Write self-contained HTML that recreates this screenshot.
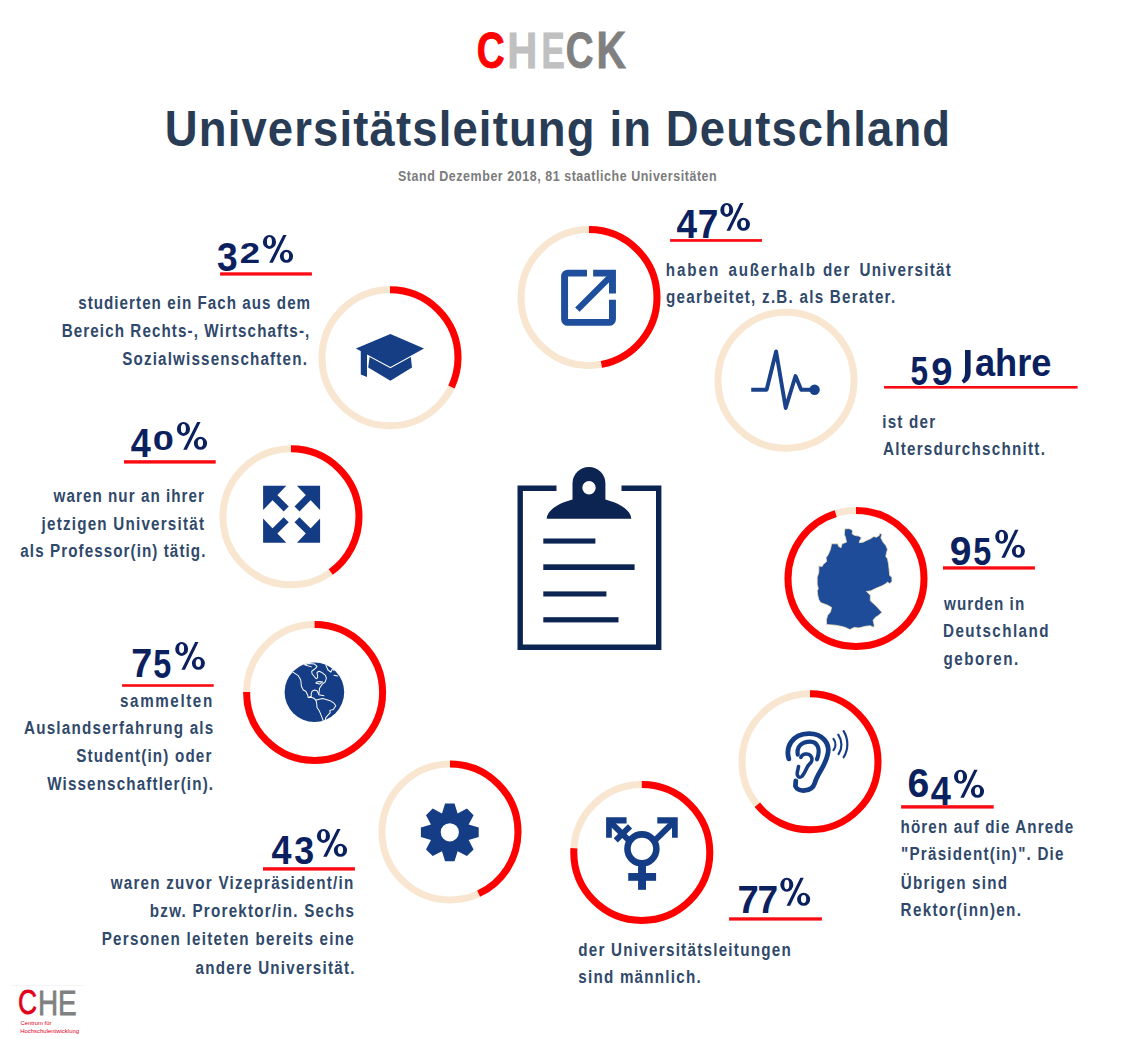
<!DOCTYPE html>
<html><head><meta charset="utf-8"><style>
html,body{margin:0;padding:0;background:#fff;}
body{width:1123px;height:1039px;overflow:hidden;}
svg{display:block;font-family:"Liberation Sans",sans-serif;}
</style></head><body>
<svg width="1123" height="1039" viewBox="0 0 1123 1039">
<rect width="1123" height="1039" fill="#fff"/>
<text transform="translate(476.76,68.21) scale(0.3870,0.5028)" font-size="100.0" font-weight="bold" fill="#ff0000" stroke="#ff0000" stroke-width="1.8">C</text>
<text transform="translate(507.36,68.40) scale(0.4167,0.5087)" font-size="100.0" font-weight="bold" fill="#c0c0c0" stroke="#c0c0c0" stroke-width="1.8">H</text>
<text transform="translate(541.51,68.40) scale(0.3494,0.5087)" font-size="100.0" font-weight="bold" fill="#c0c0c0" stroke="#c0c0c0" stroke-width="1.8">E</text>
<text transform="translate(565.78,68.21) scale(0.3839,0.5028)" font-size="100.0" font-weight="bold" fill="#808080" stroke="#808080" stroke-width="1.8">C</text>
<text transform="translate(596.43,68.40) scale(0.4071,0.5087)" font-size="100.0" font-weight="bold" fill="#808080" stroke="#808080" stroke-width="1.8">K</text>
<text transform="translate(164.77,145.90) scale(0.9,1)" font-size="50.5" font-weight="bold" fill="#293c55" letter-spacing="1.276">Universitätsleitung in Deutschland</text>
<text transform="translate(397.94,181.30) scale(0.86,1)" font-size="14.5" font-weight="bold" fill="#7b7b7b" letter-spacing="0.637">Stand Dezember 2018, 81 staatliche Universitäten</text>
<circle cx="390" cy="357.8" r="68" fill="none" stroke="#f8e6d1" stroke-width="7"/>
<circle cx="390" cy="357.8" r="68" fill="none" stroke="#ff0000" stroke-width="7" stroke-dasharray="136.72 427.26" transform="rotate(-90 390 357.8)"/>
<circle cx="589" cy="297.5" r="68" fill="none" stroke="#f8e6d1" stroke-width="7"/>
<circle cx="589" cy="297.5" r="68" fill="none" stroke="#ff0000" stroke-width="7" stroke-dasharray="200.81 427.26" transform="rotate(-90 589 297.5)"/>
<circle cx="786" cy="380.2" r="68" fill="none" stroke="#f8e6d1" stroke-width="7"/>
<circle cx="291" cy="516.8" r="68" fill="none" stroke="#f8e6d1" stroke-width="7"/>
<circle cx="291" cy="516.8" r="68" fill="none" stroke="#ff0000" stroke-width="7" stroke-dasharray="170.90 427.26" transform="rotate(-90 291 516.8)"/>
<circle cx="856" cy="578.5" r="68" fill="none" stroke="#f8e6d1" stroke-width="7"/>
<circle cx="856" cy="578.5" r="68" fill="none" stroke="#ff0000" stroke-width="7" stroke-dasharray="405.89 427.26" transform="rotate(-90 856 578.5)"/>
<circle cx="314.6" cy="692.5" r="68" fill="none" stroke="#f8e6d1" stroke-width="7"/>
<circle cx="314.6" cy="692.5" r="68" fill="none" stroke="#ff0000" stroke-width="7" stroke-dasharray="320.44 427.26" transform="rotate(-90 314.6 692.5)"/>
<circle cx="810" cy="761.8" r="68" fill="none" stroke="#f8e6d1" stroke-width="7"/>
<circle cx="810" cy="761.8" r="68" fill="none" stroke="#ff0000" stroke-width="7" stroke-dasharray="273.44 427.26" transform="rotate(-90 810 761.8)"/>
<circle cx="450" cy="832" r="68" fill="none" stroke="#f8e6d1" stroke-width="7"/>
<circle cx="450" cy="832" r="68" fill="none" stroke="#ff0000" stroke-width="7" stroke-dasharray="183.72 427.26" transform="rotate(-90 450 832)"/>
<circle cx="641.8" cy="852.5" r="68" fill="none" stroke="#f8e6d1" stroke-width="7"/>
<circle cx="641.8" cy="852.5" r="68" fill="none" stroke="#ff0000" stroke-width="7" stroke-dasharray="324.29 427.26" transform="rotate(-90 641.8 852.5)"/>
<text transform="translate(78.17,309.00) scale(0.8,1)" font-size="19" font-weight="bold" fill="#30496b" letter-spacing="1.294">studierten ein Fach aus dem</text>
<text transform="translate(61.68,336.60) scale(0.8,1)" font-size="19" font-weight="bold" fill="#30496b" letter-spacing="1.367">Bereich Rechts-, Wirtschafts-,</text>
<text transform="translate(122.16,364.50) scale(0.8,1)" font-size="19" font-weight="bold" fill="#30496b" letter-spacing="1.471">Sozialwissenschaften.</text>
<text transform="translate(665.64,275.50) scale(0.8,1)" font-size="19" font-weight="bold" fill="#30496b" letter-spacing="2.482">haben</text>
<text transform="translate(728.45,275.50) scale(0.8,1)" font-size="19" font-weight="bold" fill="#30496b" letter-spacing="2.177">außerhalb</text>
<text transform="translate(822.88,275.50) scale(0.8,1)" font-size="19" font-weight="bold" fill="#30496b" letter-spacing="1.813">der</text>
<text transform="translate(859.49,275.50) scale(0.8,1)" font-size="19" font-weight="bold" fill="#30496b" letter-spacing="1.605">Universität</text>
<text transform="translate(666.08,303.30) scale(0.8,1)" font-size="19" font-weight="bold" fill="#30496b" letter-spacing="1.559">gearbeitet, z.B. als Berater.</text>
<text transform="translate(882.24,427.60) scale(0.8,1)" font-size="19" font-weight="bold" fill="#30496b" letter-spacing="1.537">ist der</text>
<text transform="translate(882.92,455.40) scale(0.8,1)" font-size="19" font-weight="bold" fill="#30496b" letter-spacing="1.581">Altersdurchschnitt.</text>
<text transform="translate(53.54,501.70) scale(0.8,1)" font-size="19" font-weight="bold" fill="#30496b" letter-spacing="1.321">waren nur an ihrer</text>
<text transform="translate(41.54,529.50) scale(0.8,1)" font-size="19" font-weight="bold" fill="#30496b" letter-spacing="1.525">jetzigen Universität</text>
<text transform="translate(20.35,557.30) scale(0.8,1)" font-size="19" font-weight="bold" fill="#30496b" letter-spacing="1.343">als Professor(in) tätig.</text>
<text transform="translate(944.04,609.60) scale(0.8,1)" font-size="19" font-weight="bold" fill="#30496b" letter-spacing="1.316">wurden in</text>
<text transform="translate(942.98,637.30) scale(0.8,1)" font-size="19" font-weight="bold" fill="#30496b" letter-spacing="1.788">Deutschland</text>
<text transform="translate(943.38,665.10) scale(0.8,1)" font-size="19" font-weight="bold" fill="#30496b" letter-spacing="1.926">geboren.</text>
<text transform="translate(120.07,706.60) scale(0.8,1)" font-size="19" font-weight="bold" fill="#30496b" letter-spacing="1.994">sammelten</text>
<text transform="translate(23.92,734.30) scale(0.8,1)" font-size="19" font-weight="bold" fill="#30496b" letter-spacing="1.550">Auslandserfahrung als</text>
<text transform="translate(76.26,762.20) scale(0.8,1)" font-size="19" font-weight="bold" fill="#30496b" letter-spacing="1.492">Student(in) oder</text>
<text transform="translate(47.19,790.20) scale(0.8,1)" font-size="19" font-weight="bold" fill="#30496b" letter-spacing="1.430">Wissenschaftler(in).</text>
<text transform="translate(900.54,832.50) scale(0.8,1)" font-size="19" font-weight="bold" fill="#30496b" letter-spacing="1.405">hören auf die Anrede</text>
<text transform="translate(901.10,860.10) scale(0.8,1)" font-size="19" font-weight="bold" fill="#30496b" letter-spacing="1.520">&quot;Präsident(in)&quot;. Die</text>
<text transform="translate(900.69,888.60) scale(0.8,1)" font-size="19" font-weight="bold" fill="#30496b" letter-spacing="1.537">Übrigen sind</text>
<text transform="translate(900.58,916.20) scale(0.8,1)" font-size="19" font-weight="bold" fill="#30496b" letter-spacing="1.677">Rektor(inn)en.</text>
<text transform="translate(110.64,889.40) scale(0.8,1)" font-size="19" font-weight="bold" fill="#30496b" letter-spacing="1.557">waren zuvor Vizepräsident/in</text>
<text transform="translate(149.80,917.10) scale(0.8,1)" font-size="19" font-weight="bold" fill="#30496b" letter-spacing="1.537">bzw. Prorektor/in. Sechs</text>
<text transform="translate(101.68,945.40) scale(0.8,1)" font-size="19" font-weight="bold" fill="#30496b" letter-spacing="1.592">Personen leiteten bereits eine</text>
<text transform="translate(195.55,973.60) scale(0.8,1)" font-size="19" font-weight="bold" fill="#30496b" letter-spacing="1.537">andere Universität.</text>
<text transform="translate(578.18,955.70) scale(0.8,1)" font-size="19" font-weight="bold" fill="#30496b" letter-spacing="1.579">der Universitätsleitungen</text>
<text transform="translate(578.27,982.80) scale(0.8,1)" font-size="19" font-weight="bold" fill="#30496b" letter-spacing="1.545">sind männlich.</text>
<text transform="translate(216.95,270.65) scale(0.3722,0.4003)" font-size="100.0" font-weight="bold" fill="#0b205e">3</text>
<text transform="translate(239.63,262.80) scale(0.3656,0.2950)" font-size="100.0" font-weight="bold" fill="#0b205e">2</text>
<path transform="translate(262.90,234.90) scale(1.0033,1.0000)" fill="#0b205e" fill-rule="evenodd" d="M13.10,7.00 A6.55,7.0 0 1 0 0.00,7.00 A6.55,7.0 0 1 0 13.10,7.00 ZM9.00,6.65 A2.5,4.65 0 1 0 4.00,6.65 A2.5,4.65 0 1 0 9.00,6.65 ZM30.10,21.40 A6.6,6.5 0 1 0 16.90,21.40 A6.6,6.5 0 1 0 30.10,21.40 ZM26.10,21.15 A2.65,4.05 0 1 0 20.80,21.15 A2.65,4.05 0 1 0 26.10,21.15 Z M20.2,0 L23.6,0 L9.9,27.9 L6.3,27.9 Z"/>
<text transform="translate(676.44,238.20) scale(0.3696,0.3997)" font-size="100.0" font-weight="bold" fill="#0b205e">4</text>
<text transform="translate(697.71,238.20) scale(0.3708,0.3997)" font-size="100.0" font-weight="bold" fill="#0b205e">7</text>
<path transform="translate(720.30,202.90) scale(0.9867,1.0000)" fill="#0b205e" fill-rule="evenodd" d="M13.10,7.00 A6.55,7.0 0 1 0 0.00,7.00 A6.55,7.0 0 1 0 13.10,7.00 ZM9.00,6.65 A2.5,4.65 0 1 0 4.00,6.65 A2.5,4.65 0 1 0 9.00,6.65 ZM30.10,21.40 A6.6,6.5 0 1 0 16.90,21.40 A6.6,6.5 0 1 0 30.10,21.40 ZM26.10,21.15 A2.65,4.05 0 1 0 20.80,21.15 A2.65,4.05 0 1 0 26.10,21.15 Z M20.2,0 L23.6,0 L9.9,27.9 L6.3,27.9 Z"/>
<text transform="translate(910.43,384.51) scale(0.3155,0.4027)" font-size="100.0" font-weight="bold" fill="#0b205e">5</text>
<text transform="translate(931.18,384.51) scale(0.3819,0.3969)" font-size="100.0" font-weight="bold" fill="#0b205e">9</text>
<text transform="translate(974.94,376.42) scale(0.3626,0.3854)" font-size="100.0" font-weight="bold" fill="#0b205e">ahre</text>
<text transform="translate(130.65,457.30) scale(0.3603,0.3983)" font-size="100.0" font-weight="bold" fill="#0b205e">4</text>
<text transform="translate(152.69,449.53) scale(0.3806,0.2811)" font-size="100.0" font-weight="bold" fill="#0b205e">0</text>
<path transform="translate(176.90,421.90) scale(1.0033,1.0000)" fill="#0b205e" fill-rule="evenodd" d="M13.10,7.00 A6.55,7.0 0 1 0 0.00,7.00 A6.55,7.0 0 1 0 13.10,7.00 ZM9.00,6.65 A2.5,4.65 0 1 0 4.00,6.65 A2.5,4.65 0 1 0 9.00,6.65 ZM30.10,21.40 A6.6,6.5 0 1 0 16.90,21.40 A6.6,6.5 0 1 0 30.10,21.40 ZM26.10,21.15 A2.65,4.05 0 1 0 20.80,21.15 A2.65,4.05 0 1 0 26.10,21.15 Z M20.2,0 L23.6,0 L9.9,27.9 L6.3,27.9 Z"/>
<text transform="translate(949.85,565.21) scale(0.3902,0.4011)" font-size="100.0" font-weight="bold" fill="#0b205e">9</text>
<text transform="translate(973.20,565.21) scale(0.3236,0.3970)" font-size="100.0" font-weight="bold" fill="#0b205e">5</text>
<path transform="translate(995.20,529.80) scale(0.9867,1.0036)" fill="#0b205e" fill-rule="evenodd" d="M13.10,7.00 A6.55,7.0 0 1 0 0.00,7.00 A6.55,7.0 0 1 0 13.10,7.00 ZM9.00,6.65 A2.5,4.65 0 1 0 4.00,6.65 A2.5,4.65 0 1 0 9.00,6.65 ZM30.10,21.40 A6.6,6.5 0 1 0 16.90,21.40 A6.6,6.5 0 1 0 30.10,21.40 ZM26.10,21.15 A2.65,4.05 0 1 0 20.80,21.15 A2.65,4.05 0 1 0 26.10,21.15 Z M20.2,0 L23.6,0 L9.9,27.9 L6.3,27.9 Z"/>
<text transform="translate(131.18,677.30) scale(0.3772,0.3983)" font-size="100.0" font-weight="bold" fill="#0b205e">7</text>
<text transform="translate(153.20,677.51) scale(0.3236,0.4013)" font-size="100.0" font-weight="bold" fill="#0b205e">5</text>
<path transform="translate(175.20,641.90) scale(0.9867,1.0000)" fill="#0b205e" fill-rule="evenodd" d="M13.10,7.00 A6.55,7.0 0 1 0 0.00,7.00 A6.55,7.0 0 1 0 13.10,7.00 ZM9.00,6.65 A2.5,4.65 0 1 0 4.00,6.65 A2.5,4.65 0 1 0 9.00,6.65 ZM30.10,21.40 A6.6,6.5 0 1 0 16.90,21.40 A6.6,6.5 0 1 0 30.10,21.40 ZM26.10,21.15 A2.65,4.05 0 1 0 20.80,21.15 A2.65,4.05 0 1 0 26.10,21.15 Z M20.2,0 L23.6,0 L9.9,27.9 L6.3,27.9 Z"/>
<text transform="translate(907.47,797.41) scale(0.3910,0.4025)" font-size="100.0" font-weight="bold" fill="#0b205e">6</text>
<text transform="translate(930.65,805.10) scale(0.3622,0.3983)" font-size="100.0" font-weight="bold" fill="#0b205e">4</text>
<path transform="translate(954.00,769.80) scale(1.0000,1.0036)" fill="#0b205e" fill-rule="evenodd" d="M13.10,7.00 A6.55,7.0 0 1 0 0.00,7.00 A6.55,7.0 0 1 0 13.10,7.00 ZM9.00,6.65 A2.5,4.65 0 1 0 4.00,6.65 A2.5,4.65 0 1 0 9.00,6.65 ZM30.10,21.40 A6.6,6.5 0 1 0 16.90,21.40 A6.6,6.5 0 1 0 30.10,21.40 ZM26.10,21.15 A2.65,4.05 0 1 0 20.80,21.15 A2.65,4.05 0 1 0 26.10,21.15 Z M20.2,0 L23.6,0 L9.9,27.9 L6.3,27.9 Z"/>
<text transform="translate(271.55,864.30) scale(0.3603,0.3983)" font-size="100.0" font-weight="bold" fill="#0b205e">4</text>
<text transform="translate(294.18,864.46) scale(0.3581,0.3904)" font-size="100.0" font-weight="bold" fill="#0b205e">3</text>
<path transform="translate(316.90,828.90) scale(1.0033,1.0000)" fill="#0b205e" fill-rule="evenodd" d="M13.10,7.00 A6.55,7.0 0 1 0 0.00,7.00 A6.55,7.0 0 1 0 13.10,7.00 ZM9.00,6.65 A2.5,4.65 0 1 0 4.00,6.65 A2.5,4.65 0 1 0 9.00,6.65 ZM30.10,21.40 A6.6,6.5 0 1 0 16.90,21.40 A6.6,6.5 0 1 0 30.10,21.40 ZM26.10,21.15 A2.65,4.05 0 1 0 20.80,21.15 A2.65,4.05 0 1 0 26.10,21.15 Z M20.2,0 L23.6,0 L9.9,27.9 L6.3,27.9 Z"/>
<text transform="translate(737.45,913.10) scale(0.3836,0.3954)" font-size="100.0" font-weight="bold" fill="#0b205e">7</text>
<text transform="translate(757.41,913.10) scale(0.3708,0.3954)" font-size="100.0" font-weight="bold" fill="#0b205e">7</text>
<path transform="translate(780.30,877.80) scale(0.9934,1.0036)" fill="#0b205e" fill-rule="evenodd" d="M13.10,7.00 A6.55,7.0 0 1 0 0.00,7.00 A6.55,7.0 0 1 0 13.10,7.00 ZM9.00,6.65 A2.5,4.65 0 1 0 4.00,6.65 A2.5,4.65 0 1 0 9.00,6.65 ZM30.10,21.40 A6.6,6.5 0 1 0 16.90,21.40 A6.6,6.5 0 1 0 30.10,21.40 ZM26.10,21.15 A2.65,4.05 0 1 0 20.80,21.15 A2.65,4.05 0 1 0 26.10,21.15 Z M20.2,0 L23.6,0 L9.9,27.9 L6.3,27.9 Z"/>
<rect x="220.1" y="272.3" width="91.8" height="3.3" fill="#fa0a12"/>
<rect x="670.1" y="239.1" width="91.9" height="2.7" fill="#fa0a12"/>
<rect x="884.1" y="386.0" width="193.5" height="2.6" fill="#fa0a12"/>
<rect x="124.0" y="460.2" width="91.7" height="3.4" fill="#fa0a12"/>
<rect x="943.0" y="566.3" width="91.9" height="3.3" fill="#fa0a12"/>
<rect x="122.1" y="684.2" width="91.6" height="2.6" fill="#fa0a12"/>
<rect x="901.1" y="805.2" width="92.6" height="3.4" fill="#fa0a12"/>
<rect x="263.0" y="867.2" width="91.9" height="3.4" fill="#fa0a12"/>
<rect x="729.1" y="917.3" width="92.8" height="3.3" fill="#fa0a12"/>
<path fill="#0b205e" d="M965,350.1 H970.6 V372 C970.6,378.5 967.5,381.8 963.7,383.4 L961.6,380.4 C964.3,378.3 965,375.5 965,372 Z"/>
<rect x="11" y="985" width="73" height="1" fill="#f4f4f4"/>
<text transform="translate(17.96,1014.16) scale(0.2637,0.3460)" font-size="100.0" font-weight="normal" fill="#e2001a" stroke="#e2001a" stroke-width="2.2">C</text>
<text transform="translate(38.02,1014.50) scale(0.2784,0.3561)" font-size="100.0" font-weight="normal" fill="#808080" stroke="#808080" stroke-width="2.2">HE</text>
<text x="20.40" y="1024.90" font-size="6" font-weight="normal" fill="#e2001a" textLength="31.00" lengthAdjust="spacingAndGlyphs">Centrum für</text>
<text x="20.21" y="1032.70" font-size="6" font-weight="normal" fill="#e2001a" textLength="58.87" lengthAdjust="spacingAndGlyphs">Hochschulentwicklung</text>
<path d="M556.5,488.2 H520.2 V647.3 H658.7 V488.2 H621.5" fill="none" stroke="#0c2452" stroke-width="5.4"/>
<path fill-rule="evenodd" fill="#0c2452" d="M572.5,499.6 V483.5 A16.45,16.45 0 0 1 605.4,483.5 V499.6 C619,503 631,510 631.3,518.8 H546.7 C547,510 559,503 572.5,499.6 Z M595.7,487.8 A6.7,6.7 0 1 0 582.3,487.8 A6.7,6.7 0 1 0 595.7,487.8 Z"/>
<rect x="543.3" y="538.5" width="52.1" height="5.1" fill="#0c2452"/>
<rect x="543.3" y="564.3" width="91.3" height="5.7" fill="#0c2452"/>
<rect x="543.3" y="591.4" width="63.1" height="5.1" fill="#0c2452"/>
<rect x="543.3" y="617.2" width="75.2" height="5.2" fill="#0c2452"/>
<path fill="#163e84" d="M355.9,348.5 L390.4,333.9 L424,348.5 L390.4,367.0 Z"/>
<path fill="#163e84" d="M360.8,350 L367,352 V377 L360.8,374.5 Z"/>
<path fill="#163e84" d="M369.6,357.0 L390.4,368.3 L410.8,357.0 L412,367.6 L390.4,380.8 L368.2,367.6 Z"/>
<g transform="translate(510,215) scale(0.15399)" fill="#1f4f9c"><path d="M500,355 H375 A43,43 0 0 0 332,398 V677 A43,43 0 0 0 375,720 H645 A43,43 0 0 0 688,677 V550 H643 V675 H377 V400 H500 Z"/><path d="M540,355 H688 V510 H643 V400 H540 Z"/><path d="M423,600 L452,628 L670,410 L642,382 Z"/></g>
<polyline points="751.2,389.8 766.6,389.8 776.1,351.5 785.7,408 795.5,376 801.2,389.8 814.6,389.8" fill="none" stroke="#1a428a" stroke-width="3.9" stroke-linejoin="round"/>
<circle cx="814.6" cy="389.8" r="5.2" fill="#1a428a"/>
<g transform="translate(291.6,514.3)" fill="#143c85"><path d="M-28.5,-28.5 L-5.3,-28.5 L-28.5,-4.2 Z M-14.5,-19.5 L-2.9,-7.9 L-7.9,-2.9 L-19.5,-14.5 Z"/><g transform="scale(-1,1)"><path d="M-28.5,-28.5 L-5.3,-28.5 L-28.5,-4.2 Z M-14.5,-19.5 L-2.9,-7.9 L-7.9,-2.9 L-19.5,-14.5 Z"/></g><g transform="scale(1,-1)"><path d="M-28.5,-28.5 L-5.3,-28.5 L-28.5,-4.2 Z M-14.5,-19.5 L-2.9,-7.9 L-7.9,-2.9 L-19.5,-14.5 Z"/></g><g transform="scale(-1,-1)"><path d="M-28.5,-28.5 L-5.3,-28.5 L-28.5,-4.2 Z M-14.5,-19.5 L-2.9,-7.9 L-7.9,-2.9 L-19.5,-14.5 Z"/></g></g>
<g transform="translate(810,520) scale(0.1107)"><path d="M315,80 L350,78 L375,85 L385,105 L380,125 L405,140 L440,145 L465,160 L450,185 L445,205 L480,200 L510,185 L545,170 L575,150 L600,155 L625,140 L630,120 L650,130 L640,160 L660,200 L685,230 L700,265 L690,300 L685,330 L700,350 L710,400 L715,450 L720,500 L740,520 L740,555 L720,575 L700,560 L685,575 L650,595 L600,615 L550,640 L510,645 L530,665 L545,680 L545,730 L600,780 L650,835 L620,860 L590,880 L570,905 L580,950 L575,970 L545,955 L500,960 L440,975 L400,970 L360,990 L320,970 L280,960 L230,950 L150,945 L148,900 L160,860 L185,830 L195,790 L160,770 L120,755 L95,745 L80,720 L70,680 L65,640 L75,620 L65,580 L65,520 L80,470 L80,415 L110,420 L120,400 L150,375 L145,340 L160,320 L175,290 L185,265 L195,215 L250,215 L260,240 L280,250 L290,215 L330,200 L320,155 L310,130 Z" fill="#1e4c98" stroke="#f3e3b8" stroke-width="7" stroke-linejoin="round"/></g>
<circle cx="314.4" cy="692.2" r="29.8" fill="#143d85"/>
<g transform="translate(282,660) scale(0.06258)" fill="none" stroke="#fff" stroke-width="16" stroke-linejoin="round" stroke-linecap="round"><path d="M175,195 L260,250 L300,320 L310,420 L340,480 L380,500 L410,560 L420,600 L470,600 L510,610 L545,650 L555,700 L560,760 L600,820 L640,920 L660,975"/><path d="M420,600 L470,580 L465,545 L480,500 L520,480 L560,490 L580,530 L590,555 L670,570"/><path d="M590,540 L600,450 L640,390 L690,350 L710,290 L690,240 L640,200 L590,180 L560,200 L570,280 L545,300 L480,220 L475,180 L540,130 L560,100 L520,65 L420,55 L360,75 L470,110"/><path d="M545,355 L600,345 L650,350 L600,385 L545,370 Z"/><path d="M545,640 L650,615 L770,650 L830,690 L860,730 L820,790 L765,805 L770,840 L700,920 L690,965"/><path d="M700,80 L735,160 L780,195 L800,150 L830,165"/><path d="M830,245 L890,255"/></g>
<g transform="translate(730,680) scale(0.15399)" fill="none" stroke="#143d85" stroke-linecap="round" stroke-linejoin="round"><path stroke-width="31" d="M382,512 C360,440 400,350 510,348 C600,346 650,410 635,480 C620,560 570,600 550,670 C530,730 440,730 425,690 L427,655"/><path stroke-width="27" d="M440,485 C430,430 470,400 520,400 C570,400 590,450 565,515"/><path stroke-width="23" d="M460,503 C470,480 505,472 522,490 C540,510 532,535 515,547 C498,560 492,600 468,625 C450,640 432,625 437,600 L445,562"/><path stroke-width="14" d="M672,382 C690,405 688,435 672,455"/><path stroke-width="14" d="M703,355 C730,395 730,445 705,482"/><path stroke-width="14" d="M738,332 C770,385 770,450 738,502"/></g>
<path fill="#143d85" fill-rule="evenodd" d="M445.07,803.39 L454.53,803.39 L457.61,813.45 L466.90,808.51 L473.59,815.20 L468.65,824.49 L478.71,827.57 L478.71,837.03 L468.65,840.11 L473.59,849.40 L466.90,856.09 L457.61,851.15 L454.53,861.21 L445.07,861.21 L441.99,851.15 L432.70,856.09 L426.01,849.40 L430.95,840.11 L420.89,837.03 L420.89,827.57 L430.95,824.49 L426.01,815.20 L432.70,808.51 L441.99,813.45 Z M458.90000000000003,832.3 A9.1,9.1 0 1 0 440.7,832.3 A9.1,9.1 0 1 0 458.90000000000003,832.3 Z"/>
<g transform="translate(560,770) scale(0.15399)" fill="#143d85"><circle cx="532" cy="512" r="94" fill="none" stroke="#143d85" stroke-width="42.5"/><rect x="507" y="600" width="51.5" height="178"/><rect x="443" y="669" width="181" height="50.5"/><path d="M599.4,446.1 L731.9,316.1 L759.2,343.9 L626.7,473.9 Z"/><path d="M631.7,306.5 H764.6 V440.4 H727.5 V347.4 H631.7 Z"/><path d="M464.6,446.1 L332.1,316.1 L304.8,343.9 L437.3,473.9 Z"/><path d="M432.3,306.5 H299.4 V440.4 H336.5 V347.4 H432.3 Z"/><path d="M348.5,443.9 L441.5,352.6 L468.1,379.6 L375.1,470.9 Z"/></g>
</svg>
</body></html>
